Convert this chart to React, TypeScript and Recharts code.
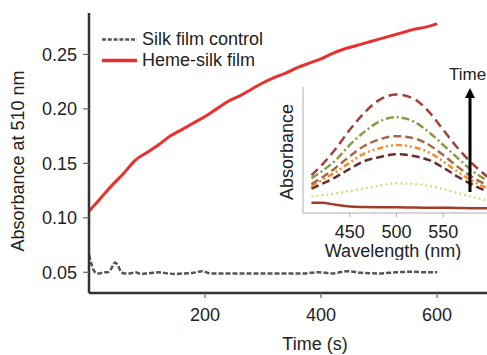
import { LineChart, Line, XAxis, YAxis, Legend } from 'recharts';

// main panel: absorbance at 510 nm vs time
const hemeTime = [0, 20, 40, 60, 80, 100, 120, 140, 160, 180, 200, 220, 240, 260, 280, 300, 320, 340, 360, 380, 400, 420, 440, 460, 480, 500, 520, 540, 560, 580, 600];
const hemeAbs = [0.106, 0.118, 0.13, 0.141, 0.153, 0.16, 0.167, 0.175, 0.181, 0.187, 0.193, 0.2, 0.207, 0.212, 0.218, 0.224, 0.229, 0.233, 0.238, 0.242, 0.246, 0.251, 0.255, 0.258, 0.261, 0.264, 0.267, 0.27, 0.273, 0.275, 0.278];

const controlTime = [0, 4, 8, 12, 18, 25, 32, 38, 45, 50, 56, 62, 70, 80, 90, 100, 110, 120, 135, 150, 165, 180, 195, 210, 230, 260, 300, 340, 370, 395, 420, 445, 470, 500, 530, 555, 580, 600];
const controlAbs = [0.066, 0.058, 0.052, 0.0495, 0.049, 0.05, 0.05, 0.053, 0.059, 0.056, 0.05, 0.049, 0.049, 0.05, 0.0485, 0.049, 0.0495, 0.05, 0.049, 0.0485, 0.049, 0.0495, 0.051, 0.049, 0.049, 0.049, 0.049, 0.049, 0.049, 0.05, 0.049, 0.051, 0.0495, 0.049, 0.05, 0.0505, 0.05, 0.05];

const yTicks = [0.05, 0.1, 0.15, 0.2, 0.25];
const xTicks = [200, 400, 600];

// inset: spectra over time (arbitrary units)
const wavelengths = [409, 420, 435, 450, 465, 480, 500, 520, 535, 550, 565, 580, 597];
const spec1 = [0.3, 0.38, 0.51, 0.66, 0.79, 0.89, 0.94, 0.9, 0.8, 0.66, 0.52, 0.4, 0.29];
const spec2 = [0.275, 0.33, 0.42, 0.54, 0.64, 0.72, 0.76, 0.72, 0.64, 0.54, 0.44, 0.34, 0.26];
const spec3 = [0.23, 0.28, 0.36, 0.45, 0.53, 0.58, 0.61, 0.59, 0.54, 0.46, 0.37, 0.29, 0.22];
const spec4 = [0.214, 0.26, 0.325, 0.4, 0.47, 0.51, 0.54, 0.52, 0.48, 0.41, 0.33, 0.26, 0.196];
const spec5 = [0.193, 0.23, 0.285, 0.35, 0.41, 0.44, 0.466, 0.45, 0.42, 0.36, 0.29, 0.23, 0.17];
const spec6 = [0.13, 0.14, 0.155, 0.175, 0.195, 0.215, 0.235, 0.23, 0.215, 0.19, 0.16, 0.13, 0.1];
const spec7 = [0.082, 0.082, 0.065, 0.052, 0.048, 0.046, 0.045, 0.043, 0.042, 0.041, 0.04, 0.038, 0.037];
const insetTicks = [450, 500, 550];

const hemeData = hemeTime.map((t, i) => ({ t, v: hemeAbs[i] }));
const controlData = controlTime.map((t, i) => ({ t, v: controlAbs[i] }));
const specData = wavelengths.map((nm, i) => ({
  nm,
  s1: spec1[i],
  s2: spec2[i],
  s3: spec3[i],
  s4: spec4[i],
  s5: spec5[i],
  s6: spec6[i],
  s7: spec7[i],
}));

const FONT = '"Liberation Sans", Arial, sans-serif';
const tick = { fontSize: 18, fill: '#222', fontFamily: FONT };

function LegendBox() {
  return (
    <div style={{ fontFamily: FONT, fontSize: 18, color: '#222', lineHeight: '21px' }}>
      <div style={{ display: 'flex', alignItems: 'center' }}>
        <svg width={42} height={21}>
          <line x1={2} y1={10.5} x2={37} y2={10.5} stroke="#555" strokeWidth={2.5} strokeDasharray="4 1.8" />
        </svg>
        <span>Silk film control</span>
      </div>
      <div style={{ display: 'flex', alignItems: 'center' }}>
        <svg width={42} height={21}>
          <line x1={2} y1={10.5} x2={37} y2={10.5} stroke="#e8302e" strokeWidth={3.5} />
        </svg>
        <span>Heme-silk film</span>
      </div>
    </div>
  );
}

export default function App() {
  return (
    <div style={{ position: 'absolute', left: 0, top: 0, width: 487, height: 355, overflow: 'hidden', background: '#fff' }}>
      <LineChart width={487} height={355} margin={{ top: 13, right: 0, left: 0, bottom: 0 }}>
        <XAxis
          type="number"
          dataKey="t"
          domain={[0, 686]}
          ticks={xTicks}
          allowDataOverflow
          height={62}
          tick={tick}
          tickSize={5}
          tickMargin={10}
          axisLine={{ stroke: '#333', strokeWidth: 2.5 }}
          tickLine={{ stroke: '#666', strokeWidth: 1.2 }}
          label={{
            content: () => (
              <text x={315} y={350} textAnchor="middle" fontSize={18} fontFamily={FONT} fill="#222">
                Time (s)
              </text>
            ),
          }}
        />
        <YAxis
          type="number"
          domain={[0.031, 0.288]}
          ticks={yTicks}
          allowDataOverflow
          width={89}
          tick={tick}
          tickSize={6}
          tickMargin={6}
          tickFormatter={(v: number) => v.toFixed(2)}
          axisLine={{ stroke: '#333', strokeWidth: 2.5 }}
          tickLine={{ stroke: '#666', strokeWidth: 1.2 }}
          label={{
            content: () => (
              <text
                x={18}
                y={161}
                transform="rotate(-90 18 161)"
                textAnchor="middle"
                dominantBaseline="central"
                fontSize={18}
                fontFamily={FONT}
                fill="#222"
              >
                Absorbance at 510 nm
              </text>
            ),
          }}
        />
        <Legend
          layout="vertical"
          align="center"
          verticalAlign="middle"
          content={() => <LegendBox />}
          wrapperStyle={{ position: 'absolute', left: 100, top: 29, width: 200, height: 44 }}
        />
        <Line
          data={controlData}
          dataKey="v"
          type="monotone"
          stroke="#555"
          strokeWidth={2.5}
          strokeDasharray="5 2"
          dot={false}
          isAnimationActive={false}
        />
        <Line
          data={hemeData}
          dataKey="v"
          type="monotone"
          stroke="#e8302e"
          strokeWidth={3}
          dot={false}
          isAnimationActive={false}
        />
      </LineChart>

      <div style={{ position: 'absolute', left: 260, top: 60 }}>
        <LineChart width={270} height={200} data={specData} margin={{ top: 27, right: 12, left: 0, bottom: 0 }}>
          <XAxis
            type="number"
            dataKey="nm"
            domain={[400, 630]}
            ticks={insetTicks}
            allowDataOverflow
            height={47}
            tick={tick}
            tickSize={4}
            tickMargin={8}
            axisLine={{ stroke: '#c8c8c8', strokeWidth: 1.5 }}
            tickLine={{ stroke: '#aaa', strokeWidth: 1 }}
            label={{
              content: () => (
                <text x={133} y={197} textAnchor="middle" fontSize={18} fontFamily={FONT} fill="#222">
                  Wavelength (nm)
                </text>
              ),
            }}
          />
          <YAxis
            type="number"
            domain={[0, 1]}
            width={43}
            tick={false}
            tickLine={false}
            axisLine={{ stroke: '#c8c8c8', strokeWidth: 1.5 }}
            label={{
              content: () => (
                <text
                  x={27}
                  y={92}
                  transform="rotate(-90 27 92)"
                  textAnchor="middle"
                  dominantBaseline="central"
                  fontSize={18}
                  fontFamily={FONT}
                  fill="#222"
                >
                  Absorbance
                </text>
              ),
            }}
          />
          <Line dataKey="s7" type="monotone" stroke="#a33b2b" strokeWidth={2.5} dot={false} isAnimationActive={false} />
          <Line dataKey="s6" type="monotone" stroke="#cfdc76" strokeWidth={2.2} strokeDasharray="2 3" dot={false} isAnimationActive={false} />
          <Line dataKey="s5" type="monotone" stroke="#6b2b2e" strokeWidth={2.5} strokeDasharray="8 4" dot={false} isAnimationActive={false} />
          <Line dataKey="s4" type="monotone" stroke="#f38b2c" strokeWidth={2.5} strokeDasharray="6 3 2 3 2 3" dot={false} isAnimationActive={false} />
          <Line dataKey="s3" type="monotone" stroke="#a86a45" strokeWidth={2.5} strokeDasharray="8 4" dot={false} isAnimationActive={false} />
          <Line dataKey="s2" type="monotone" stroke="#8c9a45" strokeWidth={2.5} strokeDasharray="8 3 2 3" dot={false} isAnimationActive={false} />
          <Line dataKey="s1" type="monotone" stroke="#a3403a" strokeWidth={2.5} strokeDasharray="9 5" dot={false} isAnimationActive={false} />
        </LineChart>
      </div>

      <svg width={487} height={355} style={{ position: 'absolute', left: 0, top: 0, pointerEvents: 'none' }}>
        <text x={449} y={80} fontSize={17} fontFamily={FONT} fill="#222">
          Time
        </text>
        <line x1={470} y1={192} x2={470} y2={96} stroke="#000" strokeWidth={3} />
        <polygon points="470,88 465,98 475,98" fill="#000" />
      </svg>
    </div>
  );
}
